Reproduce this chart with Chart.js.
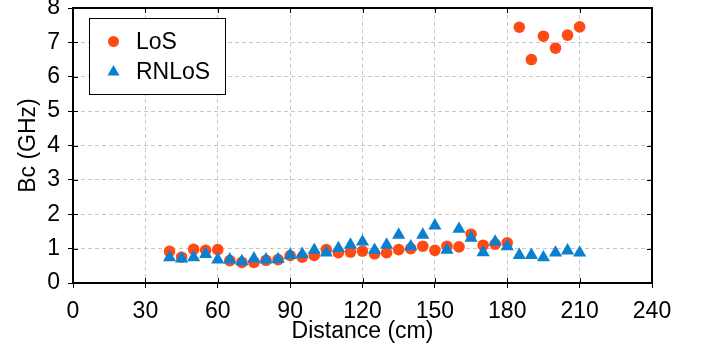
<!DOCTYPE html>
<html>
<head>
<meta charset="utf-8">
<script src="https://cdn.jsdelivr.net/npm/chart.js@4.4.1/dist/chart.umd.min.js"></script>
<style>
    html, body { margin: 0; padding: 0; background: #fff; }
    #wrap { width: 702px; height: 348px; }
</style>
</head>
<body>
<div id="wrap"><canvas id="bcChart" width="702" height="348"></canvas></div>
<script>
// distances (cm) where both series were measured
const distances = [40, 45, 50, 55, 60, 65, 70, 75, 80, 85, 90, 95, 100, 105, 110, 115, 120,
    125, 130, 135, 140, 145, 150, 155, 160, 165, 170, 175, 180, 185, 190, 195, 200, 205, 210];

// coherence bandwidth (GHz)
const losValues = [0.92, 0.75, 0.98, 0.95, 0.97, 0.65, 0.60, 0.60, 0.66, 0.68, 0.80, 0.75, 0.80,
    0.97, 0.88, 0.90, 0.93, 0.85, 0.88, 0.97, 1.00, 1.07, 0.95, 1.07, 1.05, 1.42, 1.10, 1.13,
    1.17, 7.44, 6.50, 7.18, 6.83, 7.21, 7.45];
const rnlosValues = [0.74, 0.71, 0.74, 0.84, 0.68, 0.68, 0.63, 0.71, 0.68, 0.69, 0.81, 0.84, 0.96,
    0.88, 1.01, 1.11, 1.20, 0.96, 1.11, 1.40, 1.06, 1.40, 1.67, 0.96, 1.57, 1.31, 0.89, 1.20,
    1.06, 0.81, 0.81, 0.74, 0.88, 0.94, 0.88];

const seriesLabels = ['LoS', 'RNLoS'];
const xTicks = [0, 30, 60, 90, 120, 150, 180, 210, 240];
const yTicks = [0, 1, 2, 3, 4, 5, 6, 7, 8];

const losColor = '#ff4a14';
const rnlosColor = '#0a80d0';

function toPoints(values) {
    return distances.map((d, i) => ({ x: d, y: values[i] }));
}

// box around the plot + small inward tick marks on every side
const framePlugin = {
    id: 'frame',
    beforeDatasetsDraw(chart) {
        const { ctx, chartArea: a, scales } = chart;
        ctx.save();
        ctx.strokeStyle = '#000';
        ctx.lineWidth = 1;
        ctx.beginPath();
        xTicks.forEach(v => {
            const px = Math.round(scales.x.getPixelForValue(v)) + 0.5;
            ctx.moveTo(px, a.bottom); ctx.lineTo(px, a.bottom - 5);
            ctx.moveTo(px, a.top); ctx.lineTo(px, a.top + 5);
        });
        yTicks.forEach(v => {
            const py = Math.round(scales.y.getPixelForValue(v)) + 0.5;
            ctx.moveTo(a.left, py); ctx.lineTo(a.left + 5, py);
            ctx.moveTo(a.right, py); ctx.lineTo(a.right - 5, py);
        });
        ctx.stroke();
        ctx.lineWidth = 2;
        ctx.beginPath();
        ctx.moveTo(a.left, a.top);
        ctx.lineTo(a.right, a.top);
        ctx.lineTo(a.right, a.bottom);
        ctx.stroke();
        ctx.restore();
    }
};

// legend box sitting inside the plot, top left
const boxLegend = {
    id: 'boxLegend',
    afterDatasetsDraw(chart) {
        const ctx = chart.ctx;
        ctx.save();
        ctx.fillStyle = '#fff';
        ctx.fillRect(89.5, 18.5, 136, 76);
        ctx.strokeStyle = '#000';
        ctx.lineWidth = 1;
        ctx.strokeRect(89.5, 18.5, 136, 76);
        ctx.font = "23px 'Liberation Sans', Arial, sans-serif";
        ctx.textBaseline = 'middle';
        ctx.textAlign = 'left';
        seriesLabels.forEach((label, i) => {
            const ds = chart.data.datasets[i];
            const y = 41.5 + i * 30.5;
            ctx.fillStyle = ds.backgroundColor;
            ctx.strokeStyle = ds.borderColor;
            Chart.helpers.drawPoint(ctx, {
                pointStyle: ds.pointStyle,
                radius: i === 0 ? 5.5 : 7,
                borderWidth: 0,
                rotation: 0
            }, 113.5, y);
            ctx.fillStyle = '#000';
            ctx.fillText(label, 136, y + 1);
        });
        ctx.restore();
    }
};

Chart.defaults.font.family = "'Liberation Sans', Arial, sans-serif";
Chart.defaults.font.size = 23;
Chart.defaults.color = '#000';

const ctx = document.getElementById('bcChart').getContext('2d');
new Chart(ctx, {
    type: 'scatter',
    data: {
        datasets: [{
            label: seriesLabels[0],
            data: toPoints(losValues),
            backgroundColor: losColor,
            borderColor: losColor,
            pointStyle: 'circle',
            pointRadius: 5.8,
            borderWidth: 0,
            order: 2
        }, {
            label: seriesLabels[1],
            data: toPoints(rnlosValues),
            backgroundColor: rnlosColor,
            borderColor: rnlosColor,
            pointStyle: 'triangle',
            pointRadius: 7.6,
            borderWidth: 0,
            order: 1
        }]
    },
    options: {
        responsive: false,
        animation: false,
        devicePixelRatio: 1,
        layout: { padding: { top: 8, right: 50, left: 0, bottom: 0 } },
        plugins: {
            legend: { display: false },
            tooltip: { enabled: false }
        },
        scales: {
            x: {
                type: 'linear',
                min: 0,
                max: 240,
                afterBuildTicks: scale => { scale.ticks = xTicks.map(v => ({ value: v })); },
                ticks: { padding: 10, maxRotation: 0 },
                grid: {
                    color: '#c8c8c8',
                    lineWidth: 1,
                    tickColor: '#000',
                    tickLength: 5,
                    tickWidth: 1
                },
                border: { display: true, color: '#000', width: 2, dash: [4, 3] },
                title: {
                    display: true,
                    text: 'Distance (cm)',
                    padding: { top: 0, bottom: 3 }
                },
                afterFit: scale => {
                    scale.height = 65;
                    scale.paddingLeft = 0;
                    scale.paddingRight = 0;
                }
            },
            y: {
                type: 'linear',
                min: 0,
                max: 8,
                afterBuildTicks: scale => { scale.ticks = yTicks.map(v => ({ value: v })); },
                ticks: { padding: 8 },
                grid: {
                    color: '#c8c8c8',
                    lineWidth: 1,
                    tickColor: '#000',
                    tickLength: 5,
                    tickWidth: 1
                },
                border: { display: true, color: '#000', width: 2, dash: [4, 3] },
                title: {
                    display: true,
                    text: 'Bc (GHz)',
                    padding: { top: 15, bottom: 0 }
                },
                afterFit: scale => {
                    scale.width = 73;
                    scale.paddingTop = 0;
                    scale.paddingBottom = 0;
                }
            }
        }
    },
    plugins: [framePlugin, boxLegend]
});
</script>
</body>
</html>
